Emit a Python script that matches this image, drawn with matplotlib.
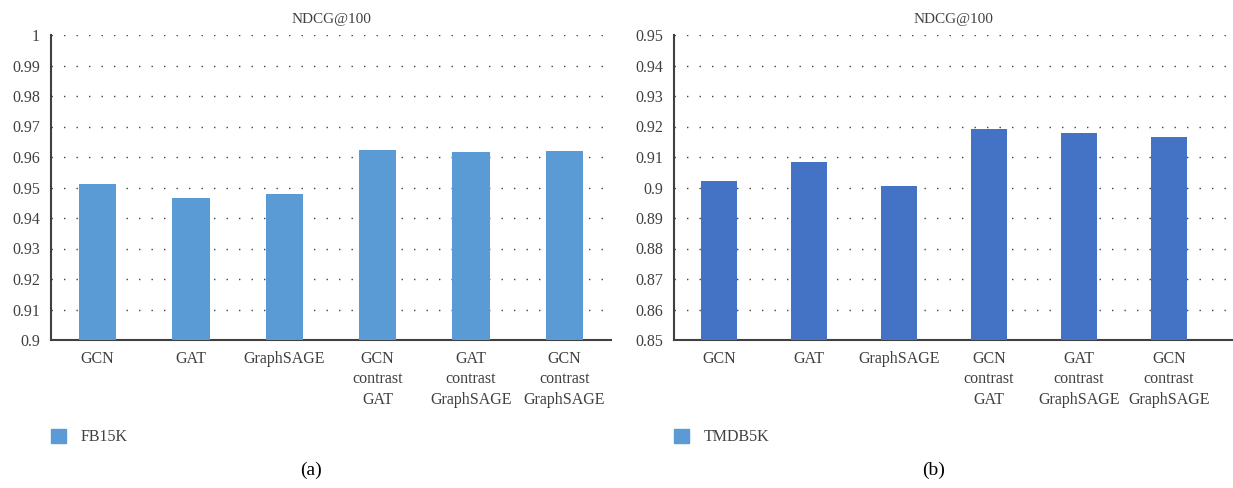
import matplotlib
matplotlib.use("Agg")
import matplotlib.pyplot as plt
from matplotlib.patches import Rectangle

# Data
categories = ["GCN", "GAT", "GraphSAGE",
              "GCN\ncontrast\nGAT", "GAT\ncontrast\nGraphSAGE", "GCN\ncontrast\nGraphSAGE"]
fb15k_ndcg = [0.9511, 0.9466, 0.9479, 0.9623, 0.9616, 0.9620]
tmdb5k_ndcg = [0.9021, 0.9084, 0.9005, 0.9192, 0.9179, 0.9166]
fb15k_ticks = [0.9, 0.91, 0.92, 0.93, 0.94, 0.95, 0.96, 0.97, 0.98, 0.99, 1.0]
tmdb5k_ticks = [0.85, 0.86, 0.87, 0.88, 0.89, 0.9, 0.91, 0.92, 0.93, 0.94, 0.95]
fb15k_ticklabels = ["0.9", "0.91", "0.92", "0.93", "0.94", "0.95", "0.96", "0.97", "0.98", "0.99", "1"]
tmdb5k_ticklabels = ["0.85", "0.86", "0.87", "0.88", "0.89", "0.9", "0.91", "0.92", "0.93", "0.94", "0.95"]

plt.rcParams["font.family"] = ["Liberation Serif", "DejaVu Serif"]

W, H = 1233, 488
fig = plt.figure(figsize=(W / 100, H / 100), dpi=100)

TXT = "#404040"


def panel(left_px, right_px, values, ticks, ticklabels, color, legend_color,
          legend_label, caption, xmax):
    top_px, bottom_px = 35, 340
    ax = fig.add_axes([left_px / W, 1 - bottom_px / H,
                       (right_px - left_px) / W, (bottom_px - top_px) / H])
    x = list(range(len(categories)))
    ax.bar(x, values, width=0.4, color=color, zorder=3)
    ax.set_xlim(-0.5, xmax)
    ax.set_ylim(ticks[0], ticks[-1])
    ax.set_yticks(ticks)
    ax.set_yticklabels(ticklabels)
    ax.set_xticks(x)
    ax.set_xticklabels(categories, linespacing=1.35)
    ax.tick_params(axis="both", length=0, labelsize=11.5, colors=TXT)
    ax.tick_params(axis="y", pad=8)
    ax.tick_params(axis="x", pad=8)
    for s in ("top", "right"):
        ax.spines[s].set_visible(False)
    for s in ("left", "bottom"):
        ax.spines[s].set_color("#404040")
        ax.spines[s].set_linewidth(1.5)
    ax.yaxis.grid(True, linestyle=(0, (1, 8)), color="#404040", linewidth=1.0, zorder=0)
    ax.set_axisbelow(True)
    ax.set_title("NDCG@100", fontsize=11, color=TXT, pad=9)
    # legend patch and label
    fig.patches.append(Rectangle((left_px / W, 1 - 443 / H), 15 / W, 14 / H,
                                 transform=fig.transFigure, color=legend_color))
    fig.text((left_px + 30) / W, 1 - 437 / H, legend_label, fontsize=11.5,
             color=TXT, va="center", ha="left")
    fig.text(((left_px + right_px) / 2 - 20) / W, 1 - 470 / H, caption,
             fontsize=14, color="black", va="center", ha="center")
    return ax


panel(51, 611, fb15k_ndcg, fb15k_ticks, fb15k_ticklabels, "#5b9bd5", "#5b9bd5",
      "FB15K", "(a)", 5.5)
panel(674, 1233, tmdb5k_ndcg, tmdb5k_ticks, tmdb5k_ticklabels, "#4472c4", "#5b9bd5",
      "TMDB5K", "(b)", 5.71)

fig.savefig("out.png", dpi=100)
